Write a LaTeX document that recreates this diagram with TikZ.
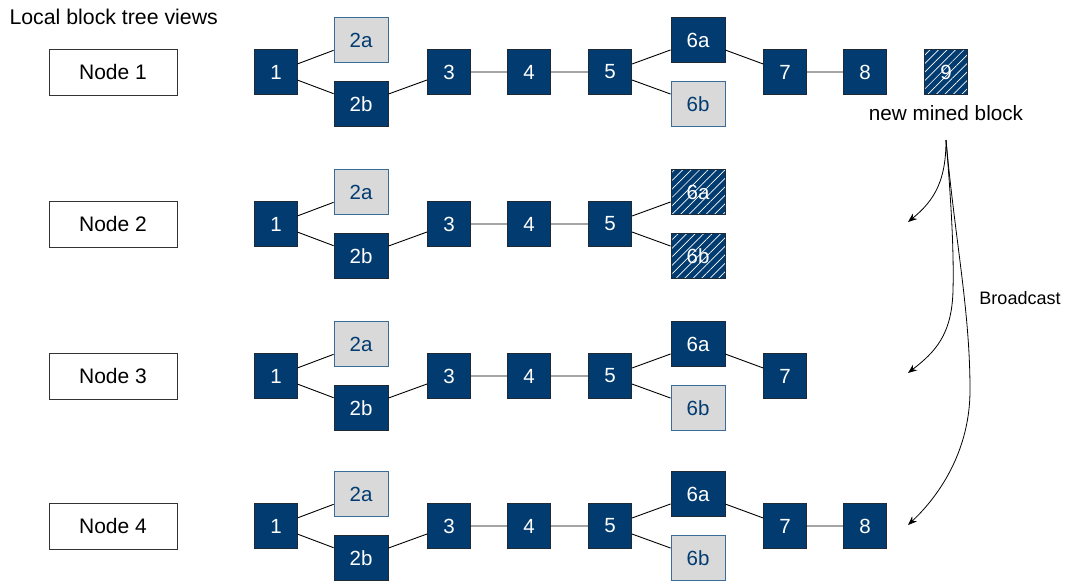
\documentclass[tikz,border=0pt]{standalone}
\usepackage{fontspec}
\setmainfont{Liberation Sans}
\usetikzlibrary{patterns.meta,arrows.meta}
\definecolor{bblue}{HTML}{013B70}
\definecolor{bdark}{HTML}{1E2A36}
\definecolor{lgray}{HTML}{D9D9D9}
\definecolor{gborder}{HTML}{3A6C9A}
\tikzset{
  blk/.style={rectangle, draw=bdark, line width=0.8pt, fill=bblue, text=white,
    minimum width=43pt, minimum height=45pt, inner sep=0pt,
    font=\fontsize{20.5}{21}\selectfont},
  blkw/.style={blk, minimum width=54pt},
  gblk/.style={blkw, fill=lgray, draw=gborder, text=bblue},
  hblk/.style={blkw, fill=none, preaction={fill=bblue},
    pattern={Lines[angle=45,distance=6pt,line width=0.7pt]}, pattern color=white},
  hblks/.style={hblk, minimum width=43pt},
  nodebox/.style={rectangle, draw=black!80, line width=0.8pt, minimum width=128pt,
    minimum height=46pt, inner sep=0pt, font=\fontsize{21}{21}\selectfont},
  link/.style={draw=black, line width=0.9pt},
  bcast/.style={draw=black, line width=0.8pt, -{Stealth[length=9pt,width=7pt]}}
}
\begin{document}
\begin{tikzpicture}[x=1pt,y=-1pt]
\useasboundingbox (0,0) rectangle (1067,581);
\node[anchor=west, font=\fontsize{21.3}{22}\selectfont] (title) at (6,17) {Local block tree views};
% ---------- Row 1 ----------
\node[nodebox] (n1) at (113,72) {Node 1};
\node[blk]  (a1)  at (276,72) {1};
\node[gblk] (a2a) at (361,40) {2a};
\node[blkw] (a2b) at (361,104) {2b};
\node[blk]  (a3)  at (449,72) {3};
\node[blk]  (a4)  at (529,72) {4};
\node[blk]  (a5)  at (610,72) {5};
\node[blkw] (a6a) at (698,40) {6a};
\node[gblk] (a6b) at (698,104) {6b};
\node[blk]  (a7)  at (785,72) {7};
\node[blk]  (a8)  at (865,72) {8};
\node[hblks] (a9) at (946,72) {9};
\node[font=\fontsize{20.7}{21}\selectfont] (nmb) at (946,113) {new mined block};
\path[link] (a1)--(a2a) (a1)--(a2b) (a2b)--(a3) (a3)--(a4) (a4)--(a5)
  (a5)--(a6a) (a5)--(a6b) (a6a)--(a7) (a7)--(a8);
% ---------- Row 2 ----------
\node[nodebox] (n2) at (113,224) {Node 2};
\node[blk]  (b1)  at (276,224) {1};
\node[gblk] (b2a) at (361,192) {2a};
\node[blkw] (b2b) at (361,256) {2b};
\node[blk]  (b3)  at (449,224) {3};
\node[blk]  (b4)  at (529,224) {4};
\node[blk]  (b5)  at (610,224) {5};
\node[hblk] (b6a) at (698,192) {6a};
\node[hblk] (b6b) at (698,256) {6b};
\path[link] (b1)--(b2a) (b1)--(b2b) (b2b)--(b3) (b3)--(b4) (b4)--(b5)
  (b5)--(b6a) (b5)--(b6b);
% ---------- Row 3 ----------
\node[nodebox] (n3) at (113,376) {Node 3};
\node[blk]  (c1)  at (276,376) {1};
\node[gblk] (c2a) at (361,344) {2a};
\node[blkw] (c2b) at (361,408) {2b};
\node[blk]  (c3)  at (449,376) {3};
\node[blk]  (c4)  at (529,376) {4};
\node[blk]  (c5)  at (610,376) {5};
\node[blkw] (c6a) at (698,344) {6a};
\node[gblk] (c6b) at (698,408) {6b};
\node[blk]  (c7)  at (785,376) {7};
\path[link] (c1)--(c2a) (c1)--(c2b) (c2b)--(c3) (c3)--(c4) (c4)--(c5)
  (c5)--(c6a) (c5)--(c6b) (c6a)--(c7);
% ---------- Row 4 ----------
\node[nodebox] (n4) at (113,526) {Node 4};
\node[blk]  (d1)  at (276,526) {1};
\node[gblk] (d2a) at (361,494) {2a};
\node[blkw] (d2b) at (361,558) {2b};
\node[blk]  (d3)  at (449,526) {3};
\node[blk]  (d4)  at (529,526) {4};
\node[blk]  (d5)  at (610,526) {5};
\node[blkw] (d6a) at (698,494) {6a};
\node[gblk] (d6b) at (698,558) {6b};
\node[blk]  (d7)  at (785,526) {7};
\node[blk]  (d8)  at (865,526) {8};
\path[link] (d1)--(d2a) (d1)--(d2b) (d2b)--(d3) (d3)--(d4) (d4)--(d5)
  (d5)--(d6a) (d5)--(d6b) (d6a)--(d7) (d7)--(d8);
% ---------- Broadcast ----------
\coordinate (bs) at (946,140);
\coordinate (t2) at (908,222);
\coordinate (t3) at (908,373);
\coordinate (t4) at (908,525);
\draw[bcast] (bs) .. controls (946,180) and (935,200) .. (t2);
\draw[bcast] (bs) .. controls (951,200) and (954,250) .. (953,290)
  .. controls (952,335) and (935,352) .. (t3);
\draw[bcast] (bs) .. controls (955,240) and (970,310) .. (970,390)
  .. controls (970,450) and (940,495) .. (t4);
\node[font=\fontsize{18}{18}\selectfont] (bc) at (1020,298) {Broadcast};
\end{tikzpicture}
\end{document}
